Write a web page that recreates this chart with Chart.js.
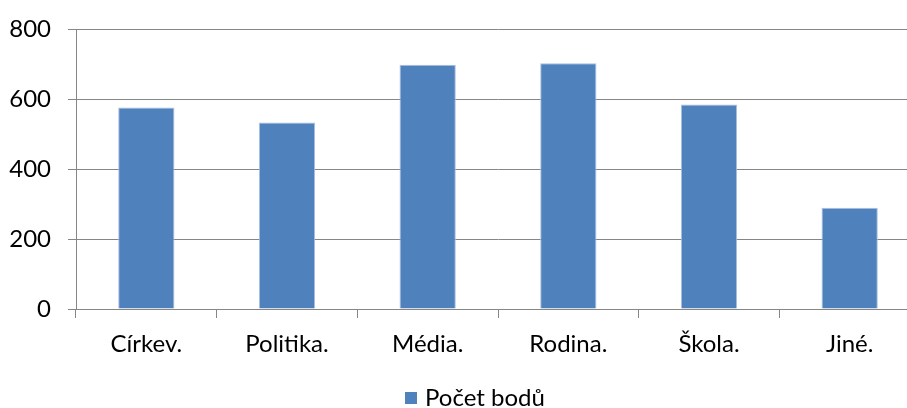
<!DOCTYPE html>
<html>
<head>
<meta charset="utf-8">
<script src="https://cdn.jsdelivr.net/npm/chart.js@4/dist/chart.umd.min.js"></script>
<style>
  html, body { margin: 0; padding: 0; background: #fff; overflow: hidden; }
  #wrap { position: relative; width: 952px; height: 408px; }
  #legend { position: absolute; left: 405px; top: 383px; height: 26px; display: flex; align-items: center;
            font-family: Lato, 'Open Sans', sans-serif; font-size: 24px; color: #000; white-space: nowrap; }
  #legend .box { width: 12px; height: 12px; margin-right: 8px; margin-top: 3px; }
</style>
</head>
<body>
<div id="wrap">
  <canvas id="chart" width="952" height="408"></canvas>
  <div id="legend"></div>
</div>
<script>
// data
var categories = ["Církev.", "Politika.", "Média.", "Rodina.", "Škola.", "Jiné."];
var points = [576, 533, 698, 702, 584, 289];
var yTicks = [0, 200, 400, 600, 800];
var seriesName = "Počet bodů";

var font = { family: "Lato, 'Open Sans', sans-serif", size: 24, lineHeight: 1 };

var chart = new Chart(document.getElementById("chart"), {
  type: 'bar',
  data: {
    labels: categories,
    datasets: [{
      label: seriesName,
      data: points,
      backgroundColor: "#4f81bd",
      borderColor: "#a9c0de",
      borderWidth: 1,
      barPercentage: 1,
      categoryPercentage: 0.4
    }]
  },
  options: {
    responsive: false,
    animation: false,
    layout: { padding: { top: 29, left: 0, right: 32, bottom: 0 } },
    plugins: {
      tooltip: { enabled: false },
      legend: { display: false }
    },
    scales: {
      x: {
        grid: { drawOnChartArea: false, color: "#868686", tickLength: 9 },
        border: { color: "#868686", width: 1 },
        ticks: { font: font, color: "#000", padding: 14 },
        afterFit: function(scale) { scale.height = 99; }
      },
      y: {
        min: 0,
        max: 800,
        afterBuildTicks: function(scale) {
          scale.ticks = yTicks.map(function(v) { return { value: v }; });
        },
        grid: { color: "#868686", tickLength: 8 },
        border: { color: "#868686", width: 1 },
        ticks: { font: font, color: "#000", padding: 17 },
        afterFit: function(scale) { scale.width = 76; }
      }
    }
  }
});

// legend as html, from the dataset
var ds = chart.data.datasets[0];
var legend = document.getElementById("legend");
var box = document.createElement("span");
box.className = "box";
box.style.background = ds.backgroundColor;
legend.appendChild(box);
legend.appendChild(document.createTextNode(ds.label));
</script>
</body>
</html>
